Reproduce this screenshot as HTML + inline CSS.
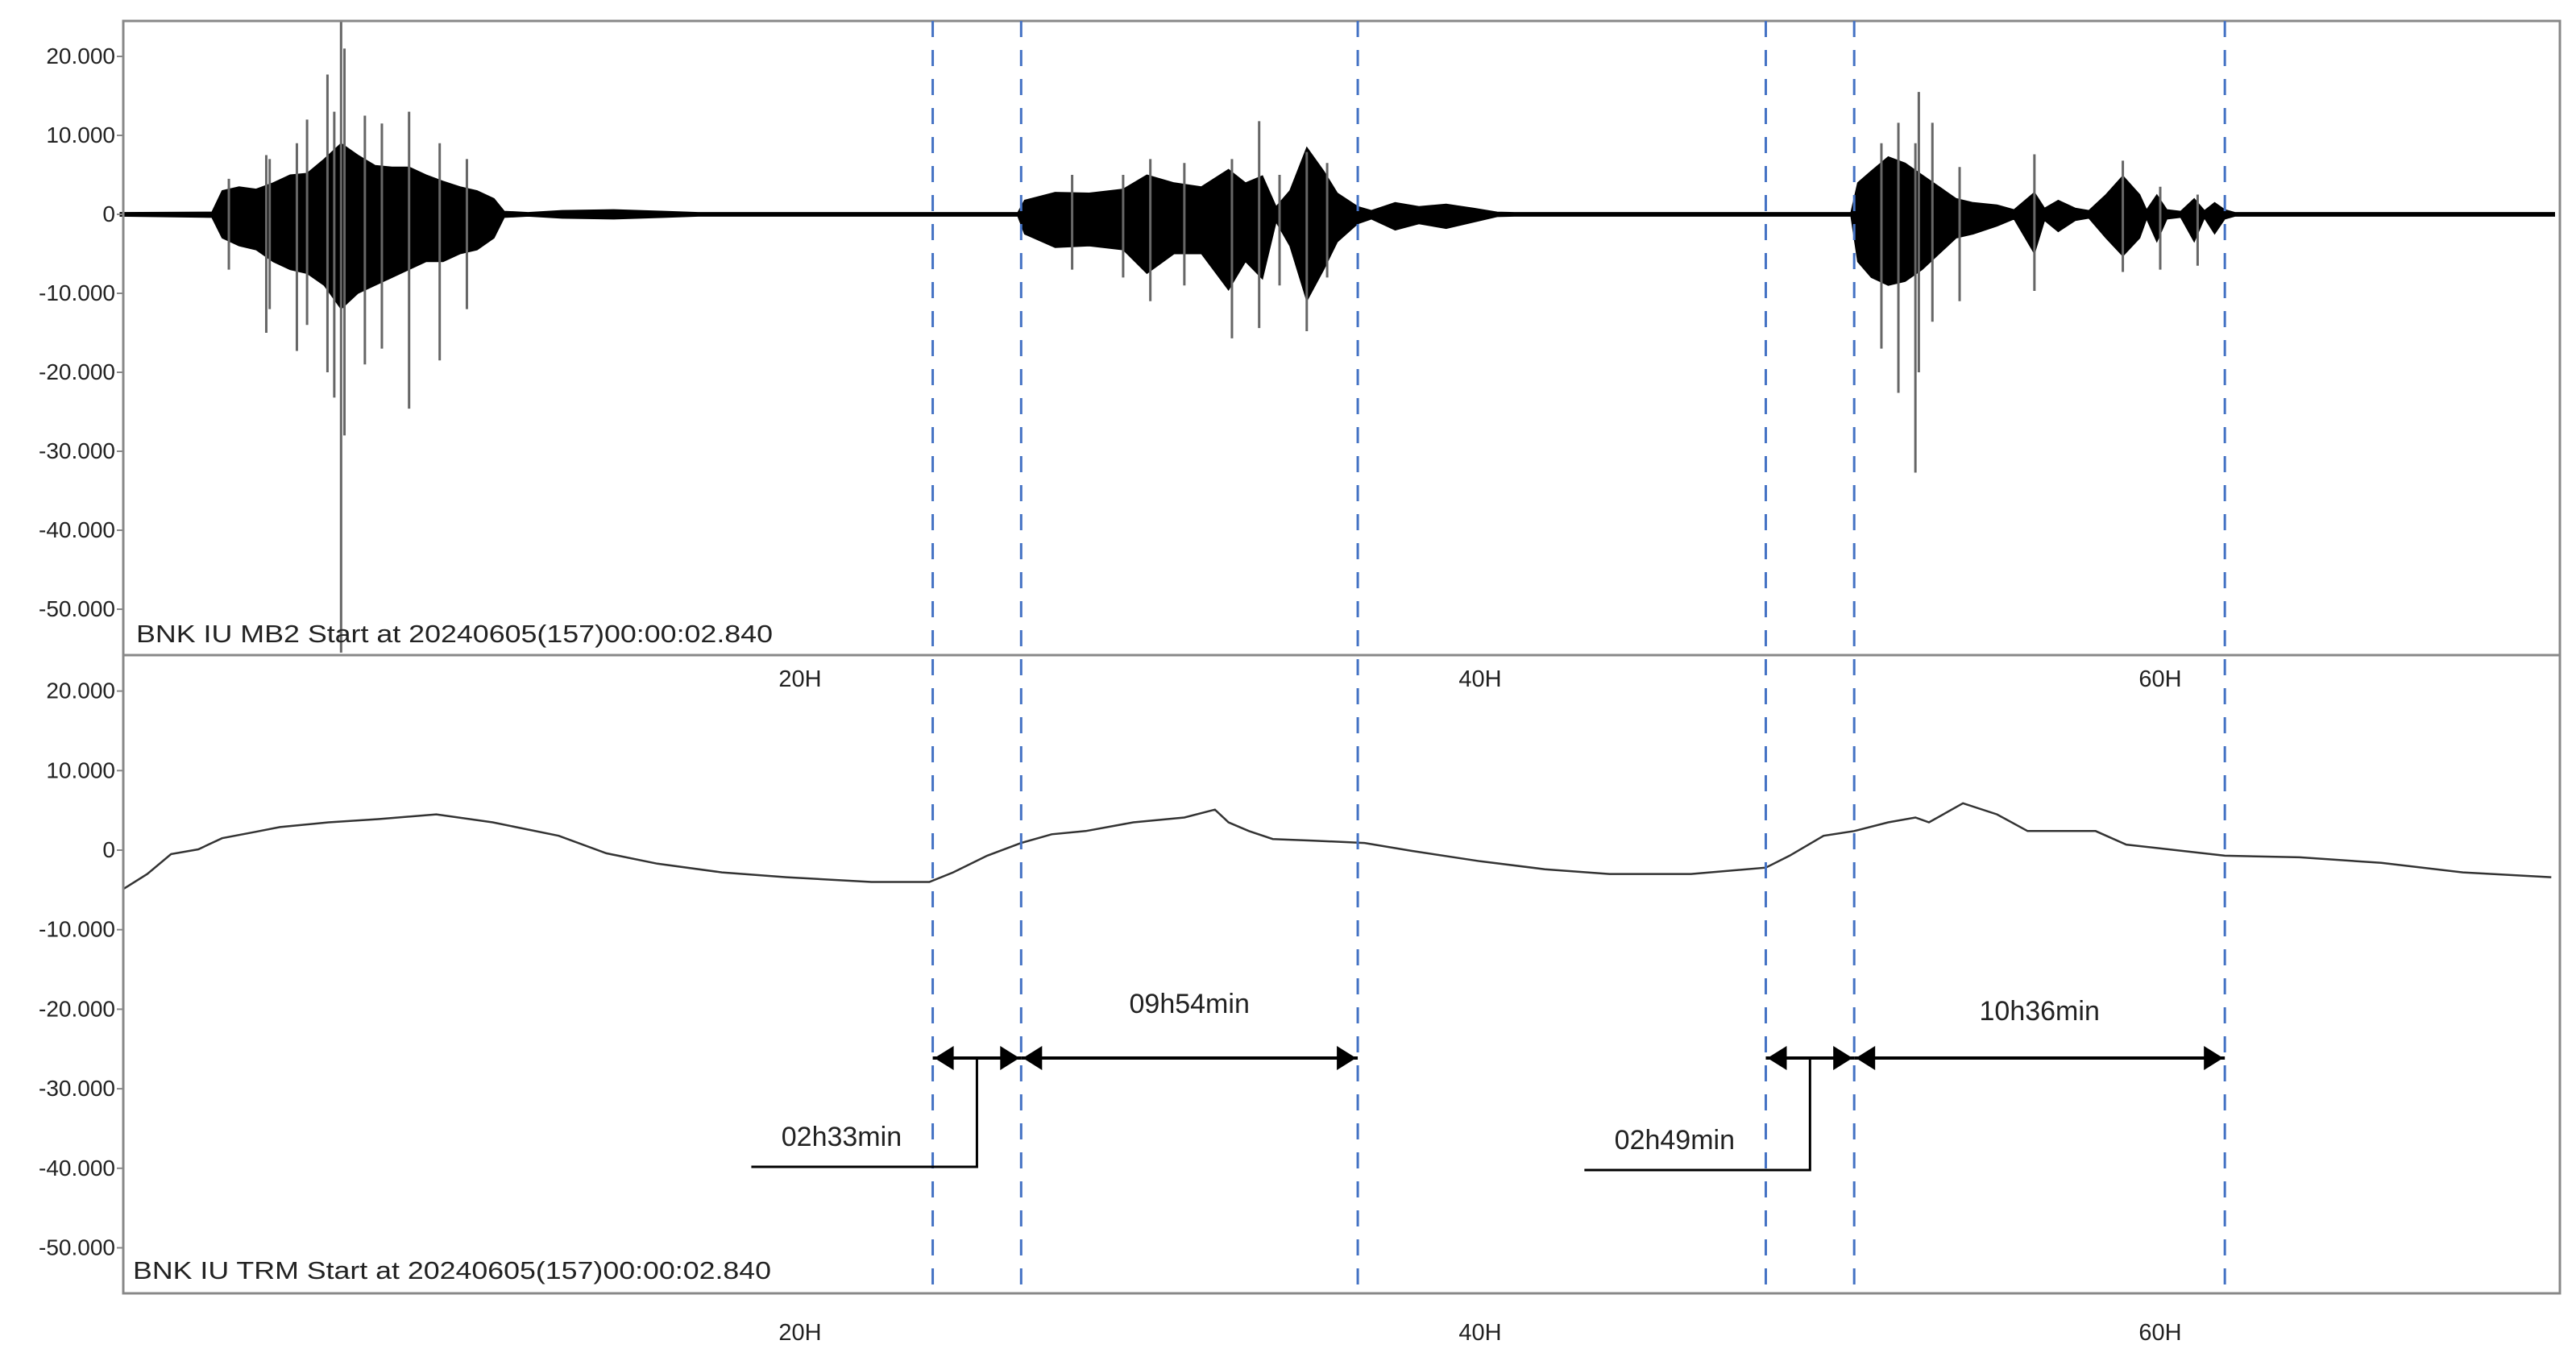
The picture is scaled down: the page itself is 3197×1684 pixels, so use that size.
<!DOCTYPE html>
<html><head><meta charset="utf-8">
<style>
html,body{margin:0;padding:0;background:#fff;}
svg{display:block;}
text{font-family:"Liberation Sans",sans-serif;fill:#222;}
</style></head>
<body>
<svg id="chart" width="3197" height="1684" viewBox="0 0 3197 1684" xmlns="http://www.w3.org/2000/svg">
<g id="marks"></g>
<g id="frame"></g>
<g id="annot"></g>
</svg>
<script>
// ---- data ----
const xTickHours = [20, 40, 60];
const xTickLabels = ["20H", "40H", "60H"];
const yTickValues = [20, 10, 0, -10, -20, -30, -40, -50];
const yTickLabels = ["20.000", "10.000", "0", "-10.000", "-20.000", "-30.000", "-40.000", "-50.000"];
const markerHours = [23.9, 26.5, 36.4, 48.4, 51.0, 61.9];
// MB2 envelope (thousands)
const envHours = [0, 2.7, 3, 3.5, 4, 4.5, 5, 5.5, 6, 6.5, 7, 7.5, 8, 8.5, 9, 9.5, 10, 10.5, 11, 11.3, 12, 13, 14.5, 16, 17, 26.4,
  26.6, 27.5, 28.5, 29.5, 30.2, 31, 31.8, 32.6, 33.1, 33.6, 34, 34.4, 34.9, 35.4, 35.8, 36.4, 36.8, 37.5, 38.2, 39, 39.8, 40.5, 41, 50.9,
  51.1, 51.5, 52, 52.5, 53, 53.5, 54, 54.5, 55.2, 55.7, 56.3, 56.6, 57, 57.5, 57.9, 58.4, 58.9, 59.4, 59.6, 59.9, 60.2, 60.6, 61, 61.3, 61.6, 61.9, 62.2, 71.6];
const envUpper = [0.25, 0.3, 3, 3.5, 3.2, 4, 5, 5.2, 7, 9, 7.5, 6.2, 6, 6, 5, 4.2, 3.5, 3, 2, 0.4, 0.25, 0.5, 0.6, 0.4, 0.25, 0.25,
  1.8, 2.8, 2.7, 3.2, 5, 4, 3.5, 5.7, 4, 4.9, 1, 3, 8.5, 5.5, 2.7, 1, 0.5, 1.5, 1, 1.3, 0.8, 0.3, 0.25, 0.25,
  4, 5.5, 7.3, 6.5, 5, 3.5, 2, 1.5, 1.2, 0.6, 2.8, 0.8, 1.8, 0.8, 0.5, 2.5, 4.9, 2.5, 0.6, 2.5, 0.6, 0.4, 2, 0.5, 1.5, 0.6, 0.25, 0.25];
const envLower = [-0.25, -0.4, -3, -4, -4.5, -6, -7, -7.5, -9, -12, -10, -9, -8, -7, -6, -6, -5, -4.5, -3, -0.4, -0.25, -0.5, -0.6, -0.4, -0.25, -0.25,
  -2.5, -4.2, -4, -4.5, -7.5, -5, -5, -9.6, -6, -8.2, -1, -4, -11, -7, -3.5, -1.2, -0.6, -2, -1.2, -1.8, -1, -0.3, -0.25, -0.25,
  -6, -8, -9, -8.5, -7, -5, -3, -2.5, -1.5, -0.6, -5, -0.8, -2.2, -0.8, -0.5, -3, -5.3, -3, -0.6, -3.5, -0.6, -0.4, -3.5, -0.5, -2.5, -0.6, -0.25, -0.25];
// gray spikes
const spikeHours = [3.2, 4.3, 4.4, 5.2, 5.5, 6.1, 6.3, 6.5, 6.6, 7.2, 7.7, 8.5, 9.4, 10.2,
  28, 29.5, 30.3, 31.3, 32.7, 33.5, 34.1, 34.9, 35.5,
  51.8, 52.3, 52.8, 52.9, 53.3, 54.1, 56.3, 58.9, 60.0, 61.1];
const spikeTop = [4.5, 7.5, 7, 9, 12, 17.7, 13, 24.5, 21, 12.5, 11.5, 13, 9, 7,
  5, 5, 7, 6.5, 7, 11.8, 5, 7.9, 6.5,
  9, 11.6, 9, 15.5, 11.6, 6, 7.6, 6.8, 3.5, 2.5];
const spikeBottom = [-7, -15, -12, -17.3, -14, -20, -23.2, -55.5, -28, -19, -17, -24.6, -18.5, -12,
  -7, -8, -11, -9, -15.7, -14.4, -9, -14.8, -8,
  -17, -22.6, -32.7, -20, -13.6, -11, -9.7, -7.3, -7, -6.5];
// TRM long-period trace (thousands)
const trmHours = [0.09, 0.8, 1.5, 2.3, 3.0, 3.98, 4.7, 6.13, 7.6, 9.3, 10.96, 12.9, 14.3, 15.8, 17.7, 19.6, 22.1, 23.8, 24.5, 25.5, 26.5, 27.4, 28.4, 29.8, 31.3, 32.2, 32.6, 33.2, 33.9, 35.1, 36.6, 38.0, 40.0, 41.9, 43.8, 46.2, 48.4, 49.1, 50.1, 51.0, 52.0, 52.8, 53.2, 54.2, 55.2, 56.1, 57.1, 58.1, 59.0, 61.9, 64.1, 66.5, 68.9, 71.5];
const trmValues = [-4.9, -3.0, -0.5, 0.1, 1.5, 2.3, 2.9, 3.5, 3.9, 4.5, 3.5, 1.8, -0.4, -1.7, -2.8, -3.4, -4.0, -4.0, -2.8, -0.7, 0.9, 2.0, 2.4, 3.5, 4.1, 5.1, 3.5, 2.4, 1.4, 1.2, 0.9, -0.1, -1.4, -2.4, -3.0, -3.0, -2.2, -0.7, 1.8, 2.4, 3.5, 4.1, 3.5, 5.9, 4.5, 2.4, 2.4, 2.4, 0.7, -0.7, -0.9, -1.6, -2.8, -3.4];
const spans = [{a:0,b:1,label:"02h33min"},{a:1,b:2,label:"09h54min"},{a:3,b:4,label:"02h49min"},{a:4,b:5,label:"10h36min"}];

// ---- axes ----
const L = 153, R = 3177, T = 26, MID = 813, B = 1605;
const xScale = h => 149 + h * 42.2;
const y1 = v => 266 - v * 9.8;
const y2 = v => 1055 - v * 9.87;
const NS = "http://www.w3.org/2000/svg";
function mk(tag, parent, attrs) {
  const e = document.createElementNS(NS, tag);
  for (const k in attrs) e.setAttribute(k, attrs[k]);
  parent.appendChild(e);
  return e;
}
const marks = document.getElementById('marks');
const frame = document.getElementById('frame');
const annot = document.getElementById('annot');

// MB2 envelope polygon
let pts = [];
for (let i = 0; i < envHours.length; i++) pts.push(xScale(envHours[i]).toFixed(1) + ',' + y1(envUpper[i]).toFixed(1));
for (let i = envHours.length - 1; i >= 0; i--) pts.push(xScale(envHours[i]).toFixed(1) + ',' + y1(envLower[i]).toFixed(1));
const env = mk('polygon', marks, {points: pts.join(' '), fill: '#000', stroke: '#000', 'stroke-width': 1});


for (let i = 0; i < spikeHours.length; i++) {
  const ln = mk('line', marks, {x1: xScale(spikeHours[i]), x2: xScale(spikeHours[i]), y1: Math.max(T, y1(spikeTop[i])), y2: Math.min(MID, y1(spikeBottom[i])), stroke: '#666', 'stroke-width': 3});
  
  
}
// TRM line
const trm = mk('polyline', marks, {points: trmHours.map((h, i) => xScale(h).toFixed(1) + ',' + y2(trmValues[i]).toFixed(1)).join(' '), fill: 'none', stroke: '#333', 'stroke-width': 2.5});



// frames
const f1 = mk('rect', frame, {x: L, y: T, width: R - L, height: MID - T, fill: 'none', stroke: '#888', 'stroke-width': 3});


const f2 = mk('rect', frame, {x: L, y: MID, width: R - L, height: B - MID, fill: 'none', stroke: '#888', 'stroke-width': 3});



// y ticks
[y1, y2].forEach((ys, p) => {
  yTickValues.forEach((v, i) => {
    const yy = ys(v);
    const t = mk('line', frame, {x1: L - 8, x2: L, y1: yy, y2: yy, stroke: '#888', 'stroke-width': 2});
    
    
    const tx = mk('text', frame, {x: 143, y: yy + 9, 'text-anchor': 'end', 'font-size': 28});
    tx.textContent = yTickLabels[i];
    
    
  });
});
// x ticks
[852, 1663].forEach((by, p) => {
  xTickHours.forEach((h, i) => {
    const tx = mk('text', frame, {x: xScale(h), y: by, 'text-anchor': 'middle', 'font-size': 29});
    tx.textContent = xTickLabels[i];
    
    
  });
});
// station labels
const s1 = mk('text', frame, {x: 169, y: 797, 'font-size': 31, textLength: 790, lengthAdjust: 'spacingAndGlyphs'});
s1.textContent = 'BNK IU MB2 Start at 20240605(157)00:00:02.840';


const s2 = mk('text', frame, {x: 165, y: 1587, 'font-size': 31, textLength: 792, lengthAdjust: 'spacingAndGlyphs'});
s2.textContent = 'BNK IU TRM Start at 20240605(157)00:00:02.840';



// marker lines
markerHours.forEach(h => {
  const d = mk('line', annot, {x1: xScale(h), x2: xScale(h), y1: T, y2: B, stroke: '#4472C4', 'stroke-width': 3, 'stroke-dasharray': '20 16'});
  
  
});
// span arrows
const AY = 1313;
function head(x, dir) {
  const p = mk('polygon', annot, {points: `${x},${AY} ${x + dir * 24},${AY - 15} ${x + dir * 24},${AY + 15}`, fill: '#000'});
  
  
}
spans.forEach((s, i) => {
  const xa = xScale(markerHours[s.a]), xb = xScale(markerHours[s.b]);
  const ln = mk('line', annot, {x1: xa, x2: xb, y1: AY, y2: AY, stroke: '#000', 'stroke-width': 4});
  
  
  head(xa + 2, 1); head(xb - 2, -1);
  const mx = (xa + xb) / 2;
  if (i % 2 === 0) {
    const ey = i === 0 ? 1448 : 1452;
    const el = mk('polyline', annot, {points: `${mx},${AY} ${mx},${ey} ${mx - 280},${ey}`, fill: 'none', stroke: '#000', 'stroke-width': 3});
    
    
    const t = mk('text', annot, {x: mx - 168, y: ey - 26, 'text-anchor': 'middle', 'font-size': 34});
    t.textContent = s.label;
    
    
  } else {
    const t = mk('text', annot, {x: mx, y: i === 1 ? 1257 : 1266, 'text-anchor': 'middle', 'font-size': 34});
    t.textContent = s.label;
    
    
  }
});
</script>
</body></html>
